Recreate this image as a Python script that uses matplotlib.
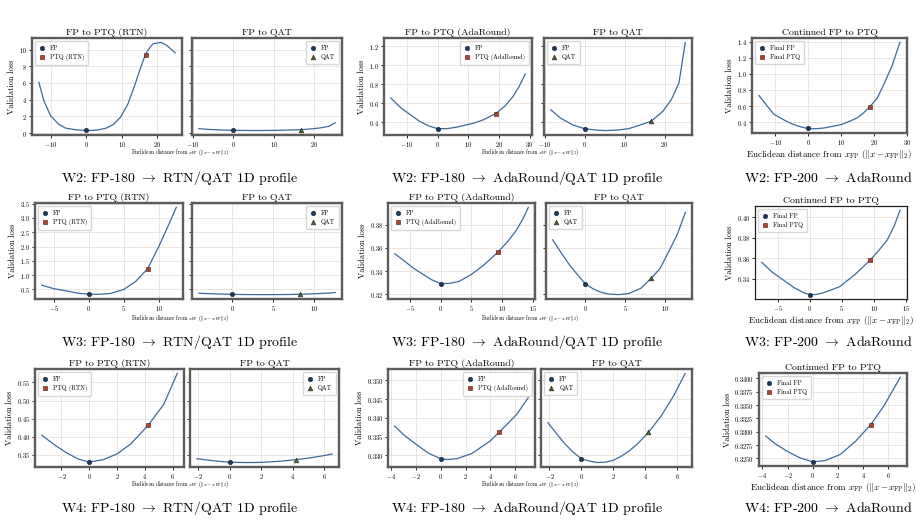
import matplotlib.pyplot as plt

plt.rcParams["font.family"] = "serif"
plt.rcParams["font.serif"] = ["cmr10", "DejaVu Serif"]
plt.rcParams["mathtext.fontset"] = "cm"
plt.rcParams["axes.formatter.use_mathtext"] = True

# ---- W2 (FP-180) ----
w2_rtn_x = [-13.4, -12, -10.1, -7.8, -5.9, -3, 0, 3, 5.6, 7.5, 9.6, 11.7, 13.6, 15, 16.6, 17.8, 18.8, 21, 22.6, 25]
w2_rtn_y = [6.1, 3.9, 2.1, 1.05, 0.6, 0.4, 0.3, 0.35, 0.6, 1.0, 1.9, 3.5, 5.7, 7.5, 9.4, 10.2, 10.7, 10.85, 10.5, 9.6]
w2_ada_x = [-15.3, -12, -9, -6, -3, 0, 3, 6, 9.4, 12, 15, 19, 22, 24.6, 26.5, 28.6]
w2_ada_y = [0.654, 0.55, 0.48, 0.41, 0.36, 0.33, 0.33, 0.345, 0.37, 0.39, 0.425, 0.49, 0.57, 0.67, 0.77, 0.906]
w2_qat_x = [-8.5, -6, -3, 0, 3, 5, 8, 11, 14, 16.7, 19.6, 21.7, 23.6, 25.2]
w2_qat_y = [0.53, 0.44, 0.37, 0.33, 0.315, 0.31, 0.315, 0.33, 0.37, 0.41, 0.514, 0.636, 0.81, 1.24]
w2_cont_x = [-15, -12.5, -10.5, -7.5, -5, -2.5, 0, 2.5, 5, 7.5, 10, 12.5, 14.9, 16.8, 18.7, 21, 23, 25.5, 27.9]
w2_cont_y = [0.73, 0.6, 0.5, 0.43, 0.38, 0.345, 0.32, 0.32, 0.33, 0.35, 0.37, 0.41, 0.455, 0.515, 0.59, 0.7, 0.87, 1.1, 1.39]
w2_marks = {"fp": 0.329, "rtn": (16.7, 9.4), "ada": (19.0, 0.49), "qat": (16.7, 0.41),
            "fp200": 0.324, "cont": (18.7, 0.59)}

# ---- W3 (FP-180) ----
w3_rtn_x = [-6.7, -5, -3, -1.5, 0, 1.5, 3.1, 5, 6.7, 8.4, 10.1, 11.3, 12.5]
w3_rtn_y = [0.65, 0.53, 0.44, 0.37, 0.335, 0.33, 0.36, 0.5, 0.78, 1.22, 2.05, 2.7, 3.37]
w3_ada_x = [-7.5, -6, -4.4, -3, -1.5, 0, 1.5, 3, 5, 7, 9.4, 11, 12.3, 13.4, 14.3]
w3_ada_y = [0.355, 0.349, 0.3423, 0.3375, 0.3325, 0.329, 0.3293, 0.331, 0.337, 0.345, 0.3566, 0.366, 0.375, 0.385, 0.3952]
w3_qat_x = [-4.1, -3, -2, -1, 0, 1, 2, 3, 4.2, 5.5, 7, 8.3, 9.4, 10.6, 11.6, 12.6]
w3_qat_y = [0.3671, 0.3555, 0.3455, 0.337, 0.329, 0.3245, 0.3215, 0.32, 0.3195, 0.3205, 0.325, 0.3337, 0.342, 0.358, 0.372, 0.3909]
w3_cont_x = [-7.5, -6, -4.2, -2.5, -1, 0, 1, 2, 3.3, 4.7, 7, 9.4, 10.8, 12.1, 13.2, 14.1]
w3_cont_y = [0.356, 0.347, 0.339, 0.3315, 0.3265, 0.3244, 0.3247, 0.3262, 0.329, 0.3325, 0.344, 0.358, 0.368, 0.378, 0.392, 0.407]
w3_marks = {"fp": 0.329, "rtn": (8.4, 1.22), "ada": (9.4, 0.3566), "qat": (8.3, 0.3337),
            "fp200": 0.3244, "cont": (9.4, 0.358)}

# ---- W4 (FP-180) ----
w4_rtn_x = [-3.42, -2.5, -1.61, -0.8, 0, 1, 2, 3, 4.24, 5.37, 6.34]
w4_rtn_y = [0.4038, 0.377, 0.3546, 0.338, 0.3295, 0.336, 0.352, 0.38, 0.431, 0.4894, 0.575]
w4_ada_x = [-3.72, -3, -1.97, -1, 0, 0.5, 1.27, 2.5, 3.97, 4.69, 6.12, 7.06]
w4_ada_y = [0.3378, 0.3355, 0.3329, 0.3306, 0.3291, 0.3289, 0.3291, 0.3305, 0.3338, 0.3361, 0.3409, 0.3454]
w4_qat_x = [-2.1, -1.5, -1, -0.5, 0, 0.5, 1, 1.5, 2, 2.5, 3, 3.5, 4.2, 5, 5.8, 6.5]
w4_qat_y = [0.3387, 0.3355, 0.3329, 0.3308, 0.3291, 0.3285, 0.3281, 0.3282, 0.3287, 0.3298, 0.3312, 0.333, 0.3361, 0.3405, 0.346, 0.3518]
w4_cont_x = [-3.73, -3, -2.05, -1, 0, 1, 2.2, 3.4, 4.62, 5.68, 6.96]
w4_cont_y = [0.3292, 0.3278, 0.32637, 0.3251, 0.32438, 0.3246, 0.32576, 0.3282, 0.33133, 0.33492, 0.3402]
w4_marks = {"fp": 0.3291, "rtn": (4.24, 0.431), "ada": (4.69, 0.3361), "qat": (4.2, 0.3361),
            "fp200": 0.32438, "cont": (4.62, 0.33133)}

bits = ["W2", "W3", "W4"]

LINE = "#3d6a99"
FP_C = "#1b3a5c"
PTQ_C = "#b5432c"
QAT_C = "#2f6b32"
XLAB = r"Euclidean distance from $x_{\mathrm{FP}}$ ($\Vert x - x_{\mathrm{FP}}\Vert_2$)"

W, H = 916, 521
fig = plt.figure(figsize=(W / 100, H / 100), dpi=100)


def px_axes(l, t, r, b, **kw):
    return fig.add_axes([l / W, 1 - b / H, (r - l) / W, (b - t) / H], **kw)


def style(ax, thin=False):
    ax.grid(True, color="#e8e3da", lw=0.6)
    ax.set_axisbelow(True)
    for s in ax.spines.values():
        if thin:
            s.set_linewidth(0.9)
            s.set_color("#222222")
        else:
            s.set_linewidth(1.7)
            s.set_color("#5c5c5c")
    ax.tick_params(labelsize=4.7, length=2.5, width=0.6, pad=1.0)


def panel(ax, x, y, fp, end, end_lab, end_style, title, loc, thin=False):
    ax.plot(x, y, color=LINE, lw=0.9, zorder=2)
    fp_lab = "Final FP" if end_lab == "Final PTQ" else "FP"
    ax.plot([0], [fp], "o", color=FP_C, ms=3.2, mec="#10243a", mew=0.4, label=fp_lab, zorder=3)
    mk, col = end_style
    ax.plot([end[0]], [end[1]], mk, color=col, ms=3.4, mec="#3a1a10", mew=0.4, label=end_lab, zorder=3)
    ax.set_title(title, fontsize=7, pad=2)
    ax.legend(loc=loc, fontsize=4.5, handlelength=1.0, handletextpad=0.8, borderpad=0.6,
              labelspacing=0.6, framealpha=0.85, edgecolor="#d0d0d0", fancybox=True)
    style(ax, thin)


rows = [
    (w2_rtn_x, w2_rtn_y, w2_ada_x, w2_ada_y, w2_qat_x, w2_qat_y, w2_cont_x, w2_cont_y, w2_marks),
    (w3_rtn_x, w3_rtn_y, w3_ada_x, w3_ada_y, w3_qat_x, w3_qat_y, w3_cont_x, w3_cont_y, w3_marks),
    (w4_rtn_x, w4_rtn_y, w4_ada_x, w4_ada_y, w4_qat_x, w4_qat_y, w4_cont_x, w4_cont_y, w4_marks),
]

# pixel boxes (left, top, right, bottom)
boxes = [
    dict(g1a=(32, 38, 182, 135), g1b=(192, 38, 342, 135), g2a=(384, 38, 532, 135),
         g2b=(544, 38, 692, 135), g3=(752, 38, 907, 133), xl=153, cap=178),
    dict(g1a=(35, 203, 183, 299), g1b=(192, 203, 342, 299), g2a=(388, 203, 535, 299),
         g2b=(546, 203, 692, 299), g3=(755, 206, 907, 299), xl=318, cap=342),
    dict(g1a=(35, 369, 184, 467), g1b=(190, 369, 339, 467), g2a=(388, 369, 535, 467),
         g2b=(541, 369, 692, 467), g3=(759, 373, 907, 466), xl=485, cap=508),
]
ada_loc = ["upper right", "upper left", "upper right"]

for i, (rx, ry, ax_, ay, qx, qy, cx, cy, m) in enumerate(rows):
    b = boxes[i]
    a1 = px_axes(*b["g1a"])
    a2 = px_axes(*b["g1b"], sharey=a1)
    panel(a1, rx, ry, m["fp"], m["rtn"], "PTQ (RTN)", ("s", PTQ_C), "FP to PTQ (RTN)", "upper left")
    panel(a2, qx, qy, m["fp"], m["qat"], "QAT", ("^", QAT_C), "FP to QAT", "upper right")
    a2.tick_params(labelleft=False)
    a1.set_ylabel("Validation loss", fontsize=6, labelpad=2)
    fig.text(180 / W, 1 - b["xl"] / H, XLAB, fontsize=3.8, ha="center", va="center")

    a3 = px_axes(*b["g2a"])
    a4 = px_axes(*b["g2b"], sharey=a3)
    panel(a3, ax_, ay, m["fp"], m["ada"], "PTQ (AdaRound)", ("s", PTQ_C), "FP to PTQ (AdaRound)", ada_loc[i])
    panel(a4, qx, qy, m["fp"], m["qat"], "QAT", ("^", QAT_C), "FP to QAT", "upper left")
    a4.tick_params(labelleft=False)
    a3.set_ylabel("Validation loss", fontsize=6, labelpad=2)
    fig.text(530 / W, 1 - b["xl"] / H, XLAB, fontsize=3.8, ha="center", va="center")

    a5 = px_axes(*b["g3"])
    panel(a5, cx, cy, m["fp200"], m["cont"], "Final PTQ", ("s", PTQ_C), "Continued FP to PTQ",
          "upper left", thin=(i == 1))
    a5.set_ylabel("Validation loss", fontsize=6, labelpad=2)
    a5.set_xlabel(XLAB, fontsize=6.5, labelpad=1)

    fig.text(180 / W, 1 - b["cap"] / H, bits[i] + r": FP-180 $\rightarrow$ RTN/QAT 1D profile",
             fontsize=10, ha="center", va="center")
    fig.text(527 / W, 1 - b["cap"] / H, bits[i] + r": FP-180 $\rightarrow$ AdaRound/QAT 1D profile",
             fontsize=10, ha="center", va="center")
    fig.text(828 / W, 1 - b["cap"] / H, bits[i] + r": FP-200 $\rightarrow$ AdaRound",
             fontsize=10, ha="center", va="center")

fig.savefig("out.png", dpi=100)
